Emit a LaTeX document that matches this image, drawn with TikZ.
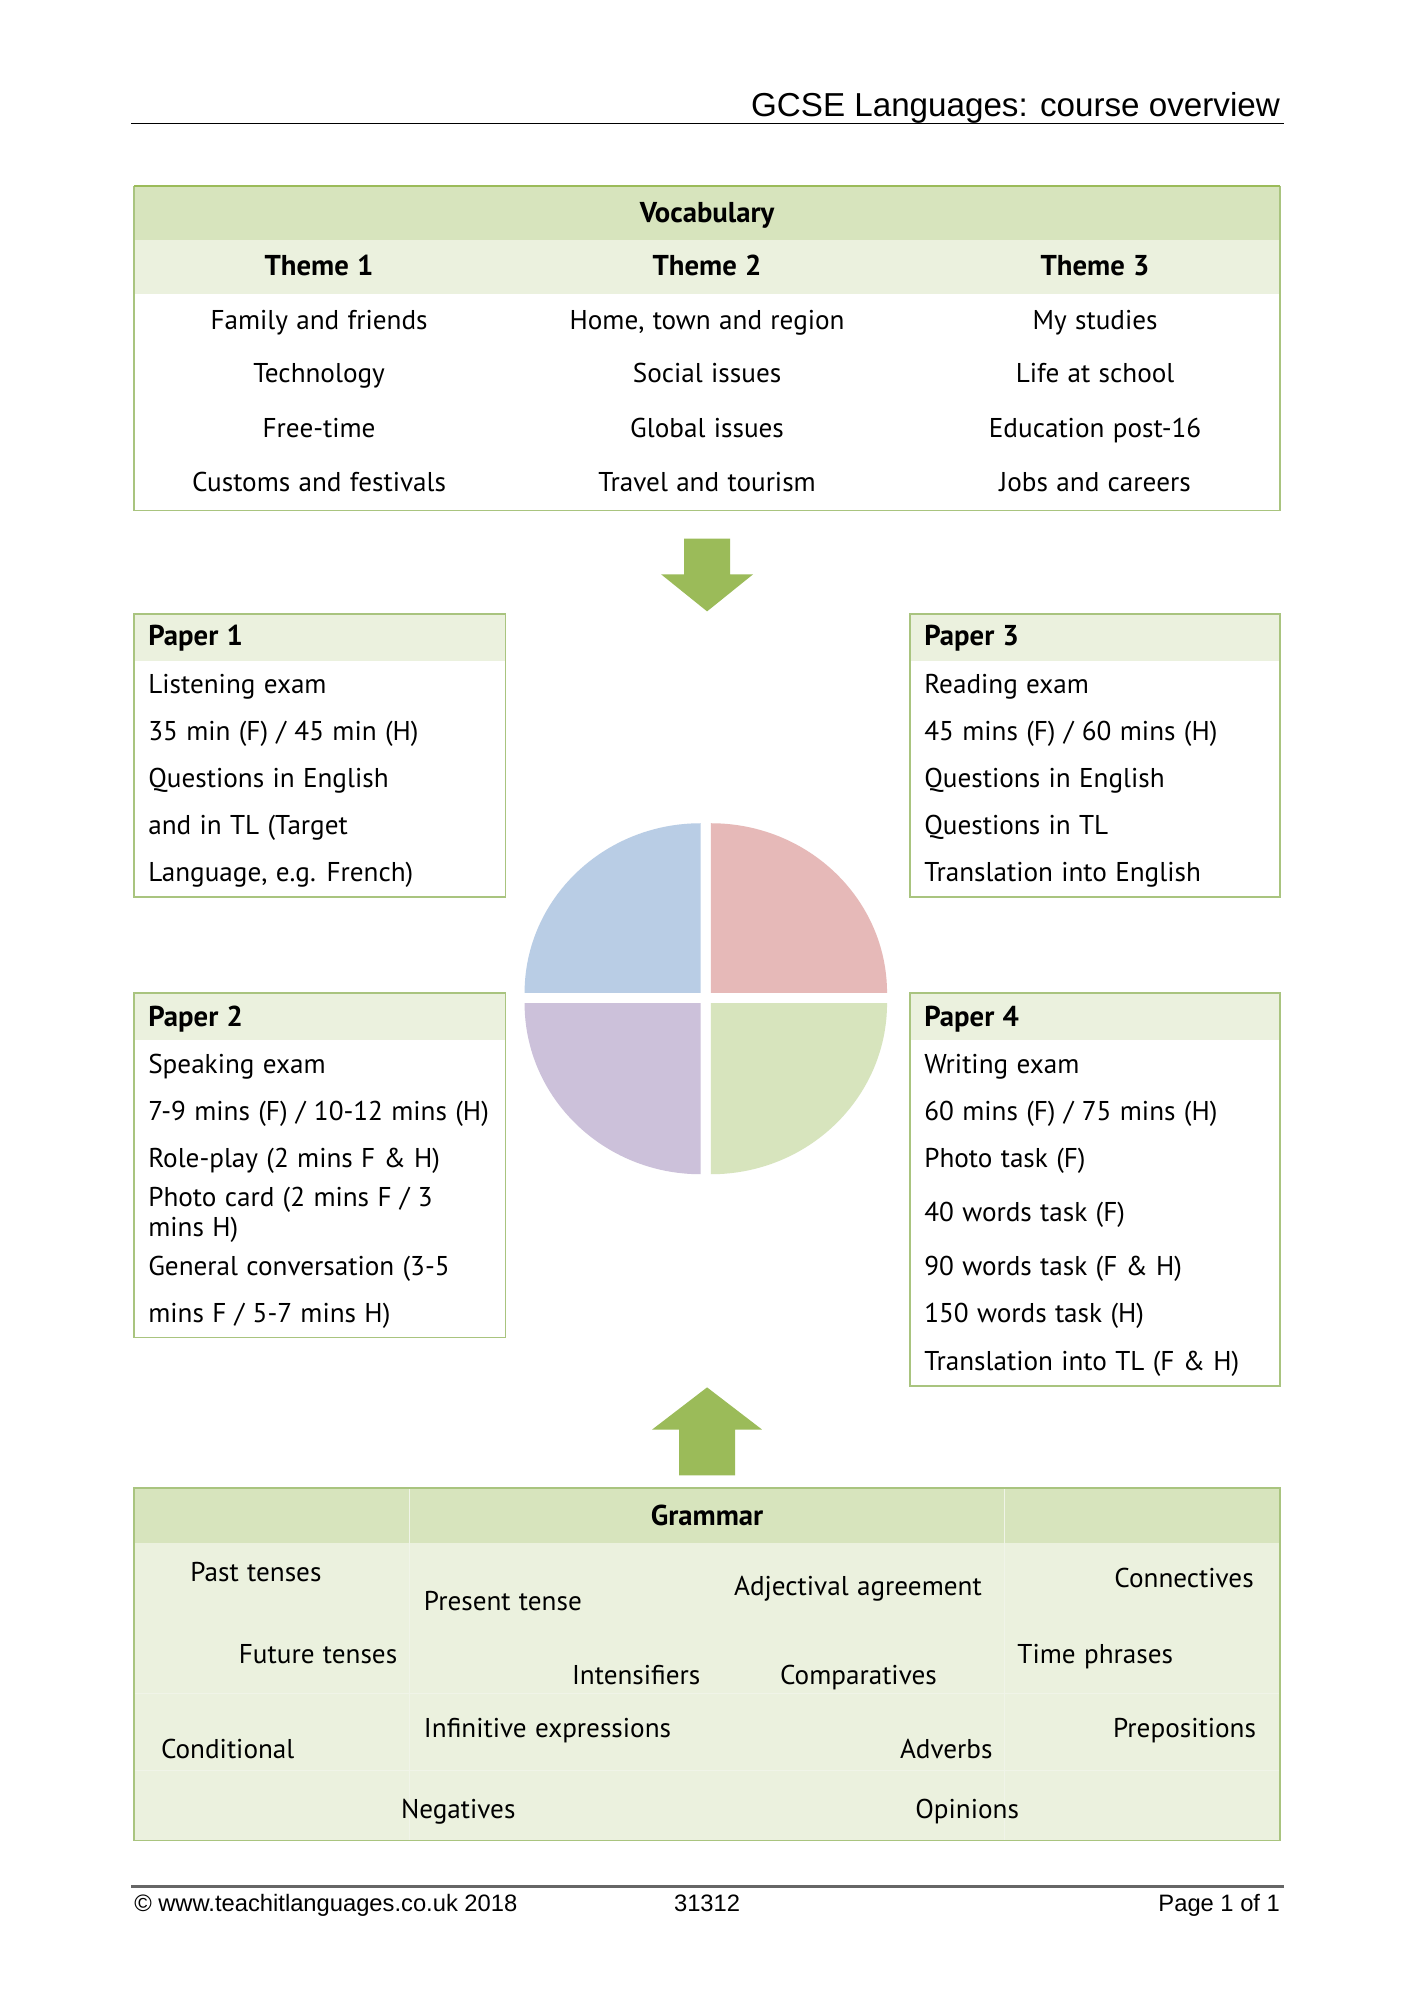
\documentclass[tikz,border=0pt]{standalone}
\usepackage{fontspec}
\setmainfont{PT Sans}[WordSpace=1.15]
\newfontfamily\hdrfont{Liberation Sans}
\definecolor{gborder}{HTML}{A9C47F}
\definecolor{gdark}{HTML}{9BBB59}
\definecolor{ghead}{HTML}{D7E4BD}
\definecolor{glight}{HTML}{EBF1DE}
\definecolor{qblue}{HTML}{B9CDE5}
\definecolor{qpink}{HTML}{E6B9B8}
\definecolor{qlav}{HTML}{CCC1DA}
\definecolor{qgreen}{HTML}{D7E4BD}
\definecolor{faint}{HTML}{F0F4E8}
\tikzset{
  txt/.style={font=\fontsize{21.3}{25}\selectfont, inner sep=0pt, anchor=base},
  ltxt/.style={txt, anchor=base west},
  btxt/.style={txt, font=\fontsize{22.5}{26}\selectfont\bfseries},
  lbtxt/.style={btxt, anchor=base west},
  hdtxt/.style={font=\hdrfont\fontsize{26}{30}\selectfont, inner sep=0pt},
  fttxt/.style={font=\hdrfont\fontsize{18.6}{22}\selectfont, inner sep=0pt},
  boxline/.style={draw=gborder, line width=1.3pt},
}
\begin{document}
\begin{tikzpicture}[x=1pt,y=-1pt]
\useasboundingbox (0,0) rectangle (1108,1567);
\fill[white] (0,0) rectangle (1108,1567);

% header
\node[hdtxt, anchor=base east] (title) at (1003,91) {GCSE Languages: course overview};
\coordinate (hl) at (103,97);
\coordinate (hr) at (1006,97);
\draw[black, line width=0.9pt] (hl) -- (hr);

% vocabulary table
\fill[ghead] (105,146) rectangle (1003,188);
\fill[glight] (105,188) rectangle (1003,230);
\draw[boxline] (105,146) rectangle (1003,400);
\draw[gdark, line width=1.8pt] (105,146) -- (1003,146);
\node[btxt] (voc) at (554,174) {Vocabulary};
\node[btxt] (t1) at (250,216) {Theme 1};
\node[btxt] (t2) at (554,216) {Theme 2};
\node[btxt] (t3) at (858,216) {Theme 3};
\node[txt] (a1) at (250,258) {Family and friends};
\node[txt] (a2) at (250,300) {Technology};
\node[txt] (a3) at (250,343) {Free-time};
\node[txt] (a4) at (250,385) {Customs and festivals};
\node[txt] (b1) at (554,258) {Home, town and region};
\node[txt] (b2) at (554,300) {Social issues};
\node[txt] (b3) at (554,343) {Global issues};
\node[txt] (b4) at (554,385) {Travel and tourism};
\node[txt] (c1) at (858,258) {My studies};
\node[txt] (c2) at (858,300) {Life at school};
\node[txt] (c3) at (858,343) {Education post-16};
\node[txt] (c4) at (858,385) {Jobs and careers};

% down arrow
\fill[gdark] (536,422) -- (572,422) -- (572,450) -- (590,450) -- (554,479) -- (518,450) -- (536,450) -- cycle;

% Paper 1
\fill[glight] (105,481) rectangle (396,518);
\draw[boxline] (105,481) rectangle (396,703);
\node[lbtxt] (p1) at (116,506) {Paper 1};
\node[ltxt] (p1a) at (116,543) {Listening exam};
\node[ltxt] (p1b) at (116,580) {35 min (F) / 45 min (H)};
\node[ltxt] (p1c) at (116,617) {Questions in English};
\node[ltxt] (p1d) at (116,654) {and in TL (Target};
\node[ltxt] (p1e) at (116,691) {Language, e.g. French)};

% Paper 3
\fill[glight] (713,481) rectangle (1003,518);
\draw[boxline] (713,481) rectangle (1003,703);
\node[lbtxt] (p3) at (724,506) {Paper 3};
\node[ltxt] (p3a) at (724,543) {Reading exam};
\node[ltxt] (p3b) at (724,580) {45 mins (F) / 60 mins (H)};
\node[ltxt] (p3c) at (724,617) {Questions in English};
\node[ltxt] (p3d) at (724,654) {Questions in TL};
\node[ltxt] (p3e) at (724,691) {Translation into English};

% pie
\fill[qblue] (549,778) -- (411,778) arc[start angle=180, end angle=90, x radius=138pt, y radius=133pt] -- cycle;
\fill[qpink] (557,778) -- (695,778) arc[start angle=0, end angle=90, x radius=138pt, y radius=133pt] -- cycle;
\fill[qlav] (549,786) -- (411,786) arc[start angle=180, end angle=270, x radius=138pt, y radius=134pt] -- cycle;
\fill[qgreen] (557,786) -- (695,786) arc[start angle=0, end angle=-90, x radius=138pt, y radius=134pt] -- cycle;

% Paper 2
\fill[glight] (105,778) rectangle (396,815);
\draw[boxline] (105,778) rectangle (396,1048);
\node[lbtxt] (p2) at (116,804) {Paper 2};
\node[ltxt] (p2a) at (116,841) {Speaking exam};
\node[ltxt] (p2b) at (116,878) {7-9 mins (F) / 10-12 mins (H)};
\node[ltxt] (p2c) at (116,915) {Role-play (2 mins F \& H)};
\node[ltxt] (p2d) at (116,945) {Photo card (2 mins F / 3};
\node[ltxt] (p2e) at (116,969) {mins H)};
\node[ltxt] (p2f) at (116,999) {General conversation (3-5};
\node[ltxt] (p2g) at (116,1036) {mins F / 5-7 mins H)};

% Paper 4
\fill[glight] (713,778) rectangle (1003,815);
\draw[boxline] (713,778) rectangle (1003,1086);
\node[lbtxt] (p4) at (724,804) {Paper 4};
\node[ltxt] (p4a) at (724,841) {Writing exam};
\node[ltxt] (p4b) at (724,878) {60 mins (F) / 75 mins (H)};
\node[ltxt] (p4c) at (724,915) {Photo task (F)};
\node[ltxt] (p4d) at (724,957) {40 words task (F)};
\node[ltxt] (p4e) at (724,999) {90 words task (F \& H)};
\node[ltxt] (p4f) at (724,1036) {150 words task (H)};
\node[ltxt] (p4g) at (724,1074) {Translation into TL (F \& H)};

% up arrow
\fill[gdark] (554,1087) -- (597,1120) -- (576,1120) -- (576,1156) -- (532,1156) -- (532,1120) -- (511,1120) -- cycle;

% grammar table
\fill[ghead] (105,1166) rectangle (1003,1209);
\fill[glight] (105,1209) rectangle (1003,1442);
\draw[faint, line width=0.5pt] (321,1166) -- (321,1442) (787,1166) -- (787,1442)
  (105,1327) -- (1003,1327) (105,1387) -- (1003,1387);
\draw[boxline] (105,1166) rectangle (1003,1442);
\node[btxt] (gram) at (554,1195) {Grammar};
\node[ltxt] (g1) at (149,1239) {Past tenses};
\node[ltxt] (g2) at (332,1262) {Present tense};
\node[ltxt] (g3) at (575,1250) {Adjectival agreement};
\node[ltxt] (g4) at (873,1244) {Connectives};
\node[ltxt] (g5) at (187,1303) {Future tenses};
\node[ltxt] (g6) at (448,1320) {Intensifiers};
\node[ltxt] (g7) at (611,1320) {Comparatives};
\node[ltxt] (g8) at (797,1303) {Time phrases};
\node[ltxt] (g9) at (332,1361) {Infinitive expressions};
\node[ltxt] (g10) at (872,1361) {Prepositions};
\node[ltxt] (g11) at (126,1378) {Conditional};
\node[ltxt] (g12) at (705,1378) {Adverbs};
\node[ltxt] (g13) at (314,1425) {Negatives};
\node[ltxt] (g14) at (717,1425) {Opinions};

% footer
\coordinate (fl) at (103,1478);
\coordinate (fr) at (1006,1478);
\draw[black!60, line width=1.8pt] (fl) -- (fr);
\node[fttxt, anchor=base west] (copy) at (105,1498) {\textcopyright\ www.teachitlanguages.co.uk 2018};
\node[fttxt, anchor=base] (num) at (554,1498) {31312};
\node[fttxt, anchor=base east] (page) at (1003,1498) {Page 1 of 1};
\end{tikzpicture}
\end{document}
